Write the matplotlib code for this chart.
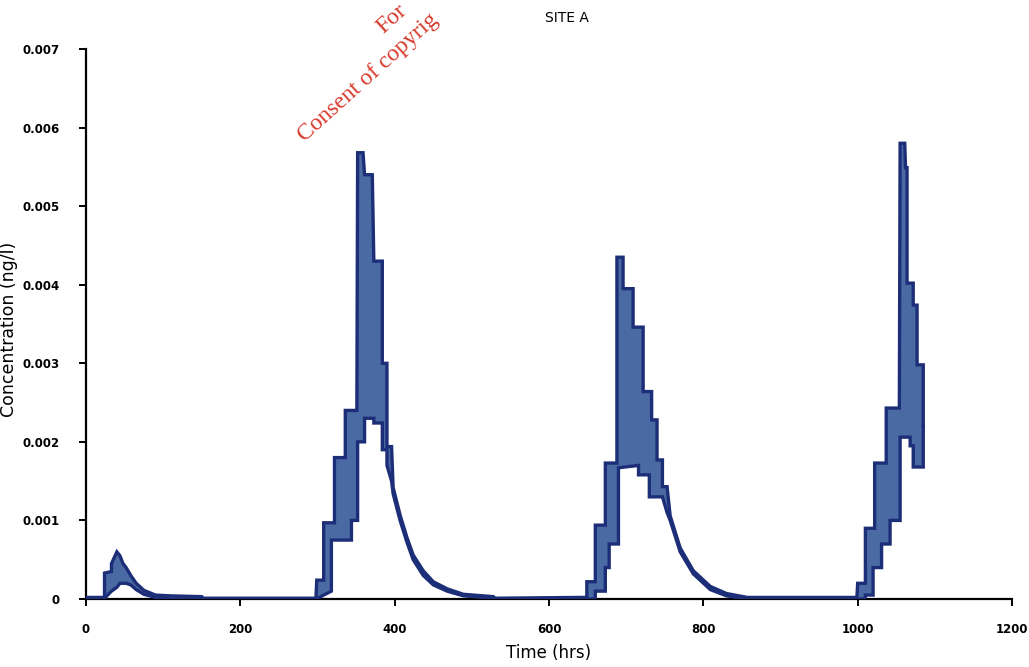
import matplotlib
matplotlib.use("Agg")
import matplotlib.pyplot as plt
import numpy as np

# ---- data ----
time_upper = [0, 24, 24, 33, 33, 40, 44, 48, 52, 58, 65, 75, 90, 110, 150, 152, 298,
              299, 308, 308, 322, 322, 336, 336, 351, 352, 359, 361, 371, 373, 384, 384, 390, 390, 396,
              398, 407, 416, 424, 437, 450, 468, 489, 528, 530,
              640, 649, 649, 660, 660, 673, 673, 688, 688, 696, 696, 709, 709, 722, 722, 733, 733, 740, 740,
              747, 747, 753, 757, 770, 787, 809, 830, 857,
              999, 1000, 1010, 1010, 1022, 1022, 1037, 1037, 1054, 1055, 1061, 1062, 1064, 1064, 1072, 1072,
              1077, 1077, 1085, 1085]
conc_upper = [0.00002, 0.00002, 0.00033, 0.00035, 0.00045, 0.0006, 0.00055, 0.00045, 0.0004, 0.0003,
              0.0002, 0.00011, 0.00005, 0.00004, 0.00003, 0.00001, 0.00001,
              0.00024, 0.00024, 0.00097, 0.00097, 0.0018, 0.0018, 0.0024, 0.0024, 0.00568, 0.00568,
              0.0054, 0.0054, 0.0043, 0.0043, 0.003, 0.003, 0.00194, 0.00194,
              0.00142, 0.00107, 0.00078, 0.00056, 0.00036, 0.00022, 0.00013, 0.00006, 0.00003, 0.00001,
              0.00002, 0.00002, 0.00022, 0.00022, 0.00094, 0.00094, 0.00173, 0.00173, 0.00435, 0.00435,
              0.00395, 0.00395, 0.00346, 0.00346, 0.00264, 0.00264, 0.00228, 0.00228, 0.00177,
              0.00177, 0.00143, 0.00143, 0.00106, 0.00065, 0.00036, 0.00016, 0.00007, 0.00002,
              0.00002, 0.0002, 0.0002, 0.0009, 0.0009, 0.00173, 0.00173, 0.00243, 0.00243, 0.0058,
              0.0058, 0.00549, 0.00549, 0.00402, 0.00402, 0.00374, 0.00374, 0.00298, 0.00298, 0.0022]

time_lower = [0, 24, 26, 33, 40, 44, 52, 58, 65, 75, 90, 110, 299,
              308, 318, 318, 344, 344, 352, 352, 361, 361, 373, 373, 384, 384, 390, 390, 396,
              398, 407, 416, 424, 437, 450, 468, 489, 528, 530,
              660, 660, 673, 673, 678, 678, 690, 690, 716, 716, 730, 730, 747, 753,
              757, 770, 787, 809, 830, 857,
              1010, 1010, 1020, 1020, 1031, 1031, 1042, 1042, 1055, 1055, 1068, 1068, 1072, 1072, 1085, 1085]
conc_lower = [0, 0, 0.00003, 0.0001, 0.00015, 0.0002, 0.0002, 0.00018, 0.00012, 0.00006, 0.00002, 0, 0,
              0.00005, 0.0001, 0.00075, 0.00075, 0.001, 0.001, 0.002, 0.002, 0.0023, 0.0023, 0.00224,
              0.00224, 0.0019, 0.0019, 0.0017, 0.0015,
              0.00134, 0.001, 0.00072, 0.0005, 0.0003, 0.00018, 0.0001, 0.00004, 0.00001, 0,
              0, 0.0001, 0.0001, 0.0004, 0.0004, 0.0007, 0.0007, 0.00167, 0.0017, 0.00158, 0.00158,
              0.0013, 0.0013, 0.0011,
              0.00100, 0.0006, 0.00032, 0.00012, 0.00004, 0,
              0, 0.00005, 0.00005, 0.0004, 0.0004, 0.0007, 0.0007, 0.001, 0.001, 0.00206, 0.00206,
              0.00195, 0.00195, 0.00168, 0.00168, 0.0022]

x_ticks = [0, 200, 400, 600, 800, 1000, 1200]
x_tick_labels = ["0", "200", "400", "600", "800", "1000", "1200"]
y_ticks = [0, 0.001, 0.002, 0.003, 0.004, 0.005, 0.006, 0.007]
y_tick_labels = ["0", "0.001", "0.002", "0.003", "0.004", "0.005", "0.006", "0.007"]

# ---- figure ----
fig = plt.figure(figsize=(10.29, 6.67), dpi=100)
ax = fig.add_axes([86/1029, 1 - 599/667, (1012-86)/1029, (599-49)/667])

fill_color = "#4a6aa4"
edge_color = "#1d2e78"

poly_x = np.r_[time_upper, time_lower[::-1]]
poly_y = np.r_[conc_upper, conc_lower[::-1]]
ax.fill(poly_x, poly_y, color=fill_color, lw=0, zorder=2)
ax.plot(time_upper, conc_upper, color=edge_color, lw=2.4, zorder=3, solid_joinstyle="miter")
ax.plot(time_lower, conc_lower, color=edge_color, lw=2.4, zorder=3, solid_joinstyle="miter")

ax.set_xlim(0, 1200)
ax.set_ylim(0, 0.007)
ax.set_xticks(x_ticks)
ax.set_xticklabels(x_tick_labels)
ax.set_yticks(y_ticks)
ax.set_yticklabels(y_tick_labels)

for s in ["top", "right"]:
    ax.spines[s].set_visible(False)
for s in ["left", "bottom"]:
    ax.spines[s].set_linewidth(1.6)
    ax.spines[s].set_color("black")
    ax.spines[s].set_zorder(1)

ax.tick_params(axis="both", direction="out", length=5, width=1.4, labelsize=8.5, pad=12)
ax.tick_params(axis="y", pad=14)
for lab in ax.get_xticklabels() + ax.get_yticklabels():
    lab.set_fontweight("bold")

ax.set_xlabel("Time (hrs)", fontsize=12, labelpad=6)
ax.set_ylabel("Concentration (ng/l)", fontsize=12.5)
ax.yaxis.set_label_coords((18 - 86) / 926, 0.49)
fig.text(567/1029, 1 - 18/667, "SITE A", ha="center", va="center", fontsize=10)

# watermark (scanned stamp, only the visible part)
fig.text(305/1029, 1 - 142/667, "Consent of copyrig",
         rotation=42, color="#d8392b", fontsize=17, family="Liberation Serif",
         ha="left", va="baseline", rotation_mode="anchor")
fig.text(383/1029, 1 - 34/667, "For",
         rotation=42, color="#d8392b", fontsize=17, family="Liberation Serif",
         ha="left", va="baseline", rotation_mode="anchor")

fig.savefig("out.png", dpi=100)
